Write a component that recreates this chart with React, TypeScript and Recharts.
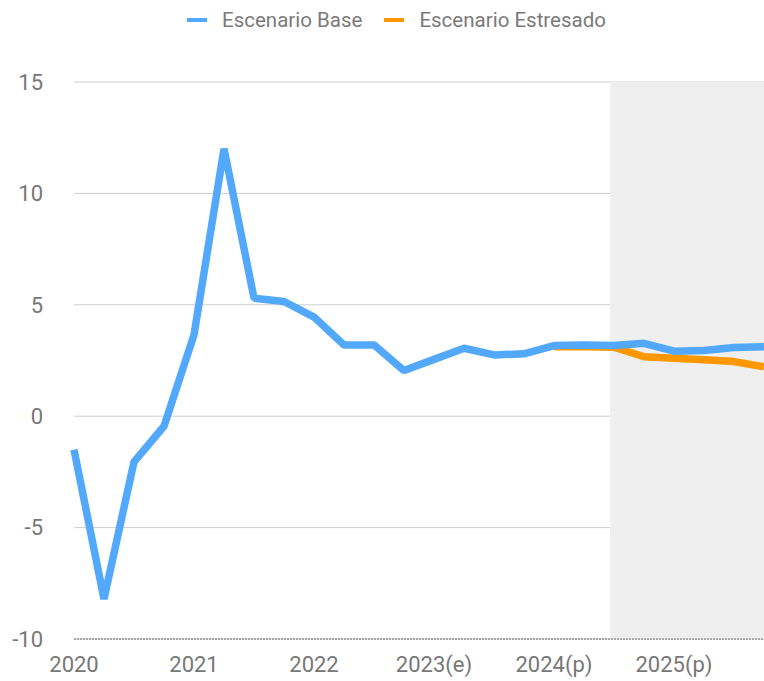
import React from "react";
import {
  LineChart,
  Line,
  XAxis,
  YAxis,
  CartesianGrid,
  ReferenceArea,
  Legend,
} from "recharts";

const quarterIndex = [
  0, 1, 2, 3, 4, 5, 6, 7, 8, 9, 10, 11, 12, 13, 14, 15, 16, 17, 18, 19, 20, 21, 22, 23,
];
const baseValues = [
  -1.5, -8.2, -2.05, -0.45, 3.65, 12.0, 5.3, 5.15, 4.45, 3.2, 3.2, 2.05, 2.55, 3.05, 2.75,
  2.8, 3.17, 3.2, 3.17, 3.27, 2.92, 2.95, 3.08, 3.12,
];
const stressValues: (number | null)[] = [
  null, null, null, null, null, null, null, null, null, null, null, null, null, null, null,
  null, 3.12, 3.12, 3.1, 2.67, 2.6, 2.53, 2.45, 2.22,
];
const yearTicks = [0, 4, 8, 12, 16, 20];
const yearLabels = ["2020", "2021", "2022", "2023(e)", "2024(p)", "2025(p)"];
const yTicks = [-10, -5, 0, 5, 10, 15];
const shadeStart = 17.87;
const shadeEnd = 23;

const data = quarterIndex.map((i) => ({
  i,
  base: baseValues[i],
  stress: stressValues[i],
}));

const BLUE = "#52a8fb";
const ORANGE = "#ff9800";
const FONT = "Roboto, 'Noto Sans', sans-serif";

const LegendContent = () => (
  <div
    style={{
      height: 40,
      display: "flex",
      alignItems: "center",
      paddingLeft: 187,
      fontFamily: FONT,
      fontSize: 20.5,
      color: "#7a7a7a",
      boxSizing: "border-box",
      whiteSpace: "nowrap",
    }}
  >
    <span style={{ display: "inline-block", width: 20, height: 4, background: BLUE, marginRight: 15 }} />
    <span style={{ marginRight: 22 }}>Escenario Base</span>
    <span style={{ display: "inline-block", width: 20, height: 4, background: ORANGE, marginRight: 15 }} />
    <span>Escenario Estresado</span>
  </div>
);

export default function App() {
  return (
    <div style={{ position: "absolute", left: 0, top: 0, width: 764, height: 681, background: "#fff" }}>
      <LineChart
        width={764}
        height={681}
        data={data}
        margin={{ top: 42, right: 0, bottom: 0, left: 0 }}
      >
        <Legend
          verticalAlign="top"
          align="left"
          content={() => <LegendContent />}
          wrapperStyle={{ left: 0, top: 0, width: 764 }}
        />
        <ReferenceArea
          x1={shadeStart}
          x2={shadeEnd}
          y1={-10}
          y2={15}
          fill="#efefef"
          fillOpacity={1}
          stroke="none"
        />
        <CartesianGrid vertical={false} stroke="#cfcfcf" strokeWidth={1} />
        <XAxis
          dataKey="i"
          type="number"
          domain={[0, 23]}
          ticks={yearTicks}
          tickFormatter={(v: number) => yearLabels[yearTicks.indexOf(v)] ?? ""}
          tickLine={false}
          tickSize={0}
          tickMargin={17}
          height={42}
          axisLine={{ stroke: "#666", strokeDasharray: "2 1" }}
          tick={{ fill: "#777", fontSize: 22, fontFamily: FONT }}
          interval={0}
        />
        <YAxis
          type="number"
          domain={[-10, 15]}
          ticks={yTicks}
          width={74}
          axisLine={false}
          tickLine={false}
          tickSize={0}
          tickMargin={31}
          tick={{ fill: "#777", fontSize: 22, fontFamily: FONT }}
          interval={0}
        />
        <Line
          dataKey="stress"
          stroke={ORANGE}
          strokeWidth={7.5}
          dot={false}
          activeDot={false}
          strokeLinejoin="bevel"
          isAnimationActive={false}
          connectNulls={false}
        />
        <Line
          dataKey="base"
          stroke={BLUE}
          strokeWidth={7.5}
          dot={false}
          activeDot={false}
          strokeLinejoin="bevel"
          isAnimationActive={false}
        />
      </LineChart>
    </div>
  );
}
